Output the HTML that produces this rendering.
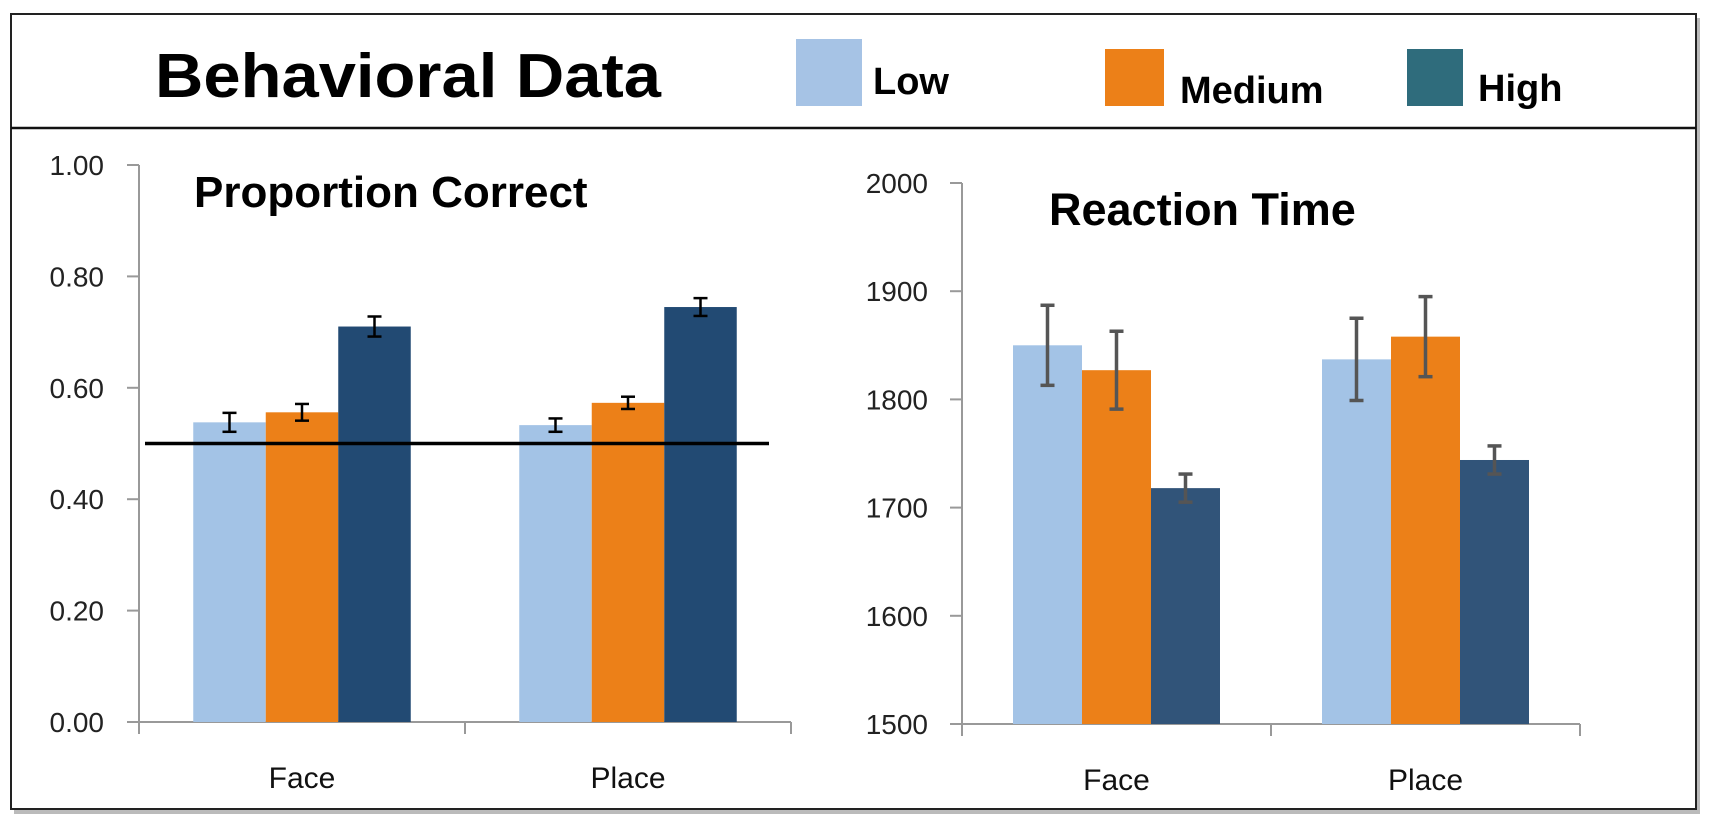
<!DOCTYPE html>
<html><head><meta charset="utf-8">
<style>
html,body{margin:0;padding:0;background:#fff;}
body{width:1710px;height:827px;overflow:hidden;font-family:"Liberation Sans",sans-serif;}
</style></head>
<body>
<svg id="chart" width="1710" height="827" xmlns="http://www.w3.org/2000/svg" font-family="Liberation Sans, sans-serif">
  <rect x="14" y="18" width="1686" height="796" fill="#bbb"/>
  <rect x="11" y="14" width="1685" height="795" fill="#fff" stroke="#222" stroke-width="2"/>
  <line x1="11" y1="128" x2="1696" y2="128" stroke="#111" stroke-width="2.5"/>
  <text x="155" y="97" font-size="62" font-weight="bold" fill="#000" textLength="506" lengthAdjust="spacingAndGlyphs">Behavioral Data</text>
  <g>
    <rect x="796" y="39" width="66" height="67" fill="#a6c3e5"/>
    <text x="873" y="94" font-size="38" font-weight="bold">Low</text>
    <rect x="1105" y="49" width="59" height="57" fill="#ec8018"/>
    <text x="1180" y="103" font-size="38" font-weight="bold">Medium</text>
    <rect x="1407" y="49" width="56" height="57" fill="#2f6c7c"/>
    <text x="1478" y="101" font-size="38" font-weight="bold">High</text>
  </g>
  <g id="left"></g>
  <g id="right"></g>
</svg>
<script>
const categories = ["Face", "Place"];
const seriesNames = ["Low", "Medium", "High"];
const pcLow = [0.538, 0.533];
const pcMedium = [0.556, 0.573];
const pcHigh = [0.710, 0.745];
const pcErrLow = [0.017, 0.012];
const pcErrMedium = [0.015, 0.011];
const pcErrHigh = [0.018, 0.016];
const pcTicks = [0, 0.2, 0.4, 0.6, 0.8, 1.0];
const pcTickLabels = ["0.00", "0.20", "0.40", "0.60", "0.80", "1.00"];
const pcChance = [0.5];
const rtLow = [1850, 1837];
const rtMedium = [1827, 1858];
const rtHigh = [1718, 1744];
const rtErrLow = [37, 38];
const rtErrMedium = [36, 37];
const rtErrHigh = [13, 13];
const rtTicks = [1500, 1600, 1700, 1800, 1900, 2000];
const rtTickLabels = ["1500", "1600", "1700", "1800", "1900", "2000"];

const NS = "http://www.w3.org/2000/svg";
function mk(parent, tag, attrs, text) {
  const e = document.createElementNS(NS, tag);
  for (const k in attrs) e.setAttribute(k, attrs[k]);
  if (text !== undefined) e.textContent = text;
  parent.appendChild(e);
  return e;
}

function drawChart(cfg) {
  const g = document.getElementById(cfg.id);
  const y = v => cfg.y0 - (v - cfg.vmin) / (cfg.vmax - cfg.vmin) * (cfg.y0 - cfg.y1);
  const catW = (cfg.xr - cfg.xl) / categories.length;
  const barW = cfg.barW;
  // axes
  const ya = mk(g, "line", {x1: cfg.xl, y1: y(cfg.vmax), x2: cfg.xl, y2: cfg.y0, stroke: "#999", "stroke-width": 2});
  
  
  cfg.ticks.forEach((t, i) => {
    const tk = mk(g, "line", {x1: cfg.xl - 12, y1: y(t), x2: cfg.xl, y2: y(t), stroke: "#999", "stroke-width": 2});
    
    
    const tl = mk(g, "text", {x: cfg.labelX, y: y(t) + 10, "text-anchor": "end", "font-size": 28, fill: "#222"}, cfg.tickLabels[i]);
    
    
  });
  const xa = mk(g, "line", {x1: cfg.xl, y1: cfg.y0, x2: cfg.xr, y2: cfg.y0, stroke: "#999", "stroke-width": 2});
  
  
  for (let i = 0; i <= categories.length; i++) {
    const t = mk(g, "line", {x1: cfg.xl + i * catW, y1: cfg.y0, x2: cfg.xl + i * catW, y2: cfg.y0 + 12, stroke: "#999", "stroke-width": 2});
    
    
  }
  const seriesVals = [cfg.low, cfg.med, cfg.high];
  const seriesErr = [cfg.elow, cfg.emed, cfg.ehigh];
  categories.forEach((c, ci) => {
    const cx = cfg.xl + catW * (ci + 0.5);
    const lab = mk(g, "text", {x: cx, y: cfg.y0 + 66, "text-anchor": "middle", "font-size": 30, fill: "#111"}, c);
    
    
    seriesVals.forEach((vals, si) => {
      const bx = cx - 1.5 * barW + si * barW;
      const v = vals[ci];
      const b = mk(g, "rect", {x: bx, y: y(v), width: barW, height: cfg.y0 - y(v), fill: cfg.colors[si]});
      
      
      const e = seriesErr[si][ci];
      const ex = bx + barW / 2;
      const eg = mk(g, "g", {stroke: cfg.errColor, "stroke-width": cfg.errW});
      
      
      mk(eg, "line", {x1: ex, y1: y(v + e), x2: ex, y2: y(v - e)});
      mk(eg, "line", {x1: ex - 7, y1: y(v + e), x2: ex + 7, y2: y(v + e)});
      mk(eg, "line", {x1: ex - 7, y1: y(v - e), x2: ex + 7, y2: y(v - e)});
    });
  });
  if (cfg.chance) {
    const l = mk(g, "line", {x1: cfg.xl + 6, y1: y(cfg.chance[0]), x2: cfg.chanceX2, y2: y(cfg.chance[0]), stroke: "#000", "stroke-width": 3.5});
    
    
  }
  const tt = mk(g, "text", {x: cfg.titleX, y: cfg.titleY, "font-size": cfg.titleSize, "font-weight": "bold", fill: "#000"}, cfg.title);
  
  
}

drawChart({id: "left", xl: 139, xr: 791, y0: 722, y1: 165, vmin: 0, vmax: 1,
  ticks: pcTicks, tickLabels: pcTickLabels, labelX: 104, barW: 72.5,
  low: pcLow, med: pcMedium, high: pcHigh, elow: pcErrLow, emed: pcErrMedium, ehigh: pcErrHigh,
  colors: ["#a3c3e6", "#ec8018", "#224a73"], errColor: "#000", errW: 2.5,
  chance: pcChance, chanceX2: 769, title: "Proportion Correct", titleX: 194, titleY: 207, titleSize: 44});
drawChart({id: "right", xl: 962, xr: 1580, y0: 724, y1: 183, vmin: 1500, vmax: 2000,
  ticks: rtTicks, tickLabels: rtTickLabels, labelX: 928, barW: 69,
  low: rtLow, med: rtMedium, high: rtHigh, elow: rtErrLow, emed: rtErrMedium, ehigh: rtErrHigh,
  colors: ["#a3c3e6", "#ec8018", "#315479"], errColor: "#555", errW: 3.5,
  chance: null, title: "Reaction Time", titleX: 1049, titleY: 225, titleSize: 45});
</script>
</body></html>
